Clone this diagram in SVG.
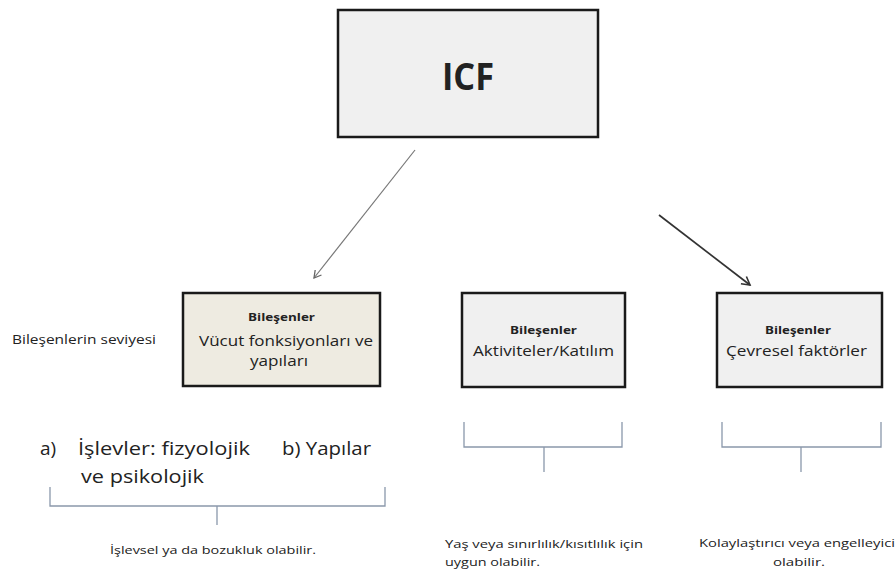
<svg xmlns="http://www.w3.org/2000/svg" width="896" height="570" viewBox="0 0 896 570">
<style>
text{font-family:"Open Sans","Liberation Sans",Arial,sans-serif;fill:#222}
.box{fill:#f0f0f0;stroke:#1a1a1a;stroke-width:2.5}
.hd{font-weight:bold;font-size:11px}
.lb{font-size:14px}
.big{font-size:19px}
.br{fill:none;stroke:#8a98ab;stroke-width:1.3}
.note{font-size:11px}
</style>
<defs>
<marker id="ah1" markerWidth="10" markerHeight="10" refX="8" refY="5" orient="auto" markerUnits="userSpaceOnUse">
<path d="M1,1 L8,5 L1,9" fill="none" stroke="#666" stroke-width="1.3"/>
</marker>
<marker id="ah2" markerWidth="12" markerHeight="12" refX="9" refY="6" orient="auto" markerUnits="userSpaceOnUse">
<path d="M1,1.5 L9,6 L1,10.5" fill="none" stroke="#333" stroke-width="1.6"/>
</marker>
</defs>
<rect width="896" height="570" fill="#fff"/>
<g id="icf">
<rect class="box" x="338" y="10" width="260" height="127"/>
<text x="442" y="90" font-size="38" font-weight="bold" textLength="52" lengthAdjust="spacingAndGlyphs">ICF</text>
</g>
<g id="connectors">
<line x1="415" y1="150" x2="314" y2="278" stroke="#777" stroke-width="1.2" marker-end="url(#ah1)"/>
<line x1="659" y1="215" x2="750" y2="285" stroke="#333" stroke-width="1.7" marker-end="url(#ah2)"/>
</g>
<g id="level-label">
<text x="12" y="344" font-size="12.5" textLength="144" lengthAdjust="spacingAndGlyphs">Bileşenlerin seviyesi</text>
</g>
<g id="vucut">
<rect class="box" x="183" y="293" width="197" height="93" style="fill:#eeebe1"/>
<text class="hd" x="248" y="321" textLength="67" lengthAdjust="spacingAndGlyphs">Bileşenler</text>
<text class="lb" x="199" y="346" textLength="174" lengthAdjust="spacingAndGlyphs">Vücut fonksiyonları ve</text>
<text class="lb" x="250" y="366" textLength="58" lengthAdjust="spacingAndGlyphs">yapıları</text>
</g>
<g id="aktivite">
<rect class="box" x="462" y="293" width="163" height="94"/>
<text class="hd" x="510" y="334" textLength="67" lengthAdjust="spacingAndGlyphs">Bileşenler</text>
<text class="lb" x="473" y="356" textLength="141" lengthAdjust="spacingAndGlyphs">Aktiviteler/Katılım</text>
</g>
<g id="cevresel">
<rect class="box" x="717" y="293" width="165" height="94"/>
<text class="hd" x="765" y="334" textLength="66" lengthAdjust="spacingAndGlyphs">Bileşenler</text>
<text class="lb" x="726" y="356" textLength="141" lengthAdjust="spacingAndGlyphs">Çevresel faktörler</text>
</g>
<g id="bracket1">
<path class="br" d="M50,487 V506 H385 V487 M217,506 V525"/>
<text class="big" x="40" y="455">a)</text>
<text class="big" x="78" y="455" textLength="172" lengthAdjust="spacingAndGlyphs">İşlevler: fizyolojik</text>
<text class="big" x="282" y="455" textLength="89" lengthAdjust="spacingAndGlyphs">b) Yapılar</text>
<text class="big" x="81" y="483" textLength="123" lengthAdjust="spacingAndGlyphs">ve psikolojik</text>
<text class="note" x="110" y="554" textLength="206" lengthAdjust="spacingAndGlyphs">İşlevsel ya da bozukluk olabilir.</text>
</g>
<g id="bracket2">
<path class="br" d="M464,422 V447 H622 V422 M544,447 V472"/>
<text class="note" x="445" y="548" textLength="198" lengthAdjust="spacingAndGlyphs">Yaş veya sınırlılık/kısıtlılık için</text>
<text class="note" x="445" y="566" textLength="95" lengthAdjust="spacingAndGlyphs">uygun olabilir.</text>
</g>
<g id="bracket3">
<path class="br" d="M722,422 V447 H881 V422 M801,447 V472"/>
<text class="note" x="699" y="547" textLength="196" lengthAdjust="spacingAndGlyphs">Kolaylaştırıcı veya engelleyici</text>
<text class="note" x="773" y="566" textLength="52" lengthAdjust="spacingAndGlyphs">olabilir.</text>
</g>
</svg>
